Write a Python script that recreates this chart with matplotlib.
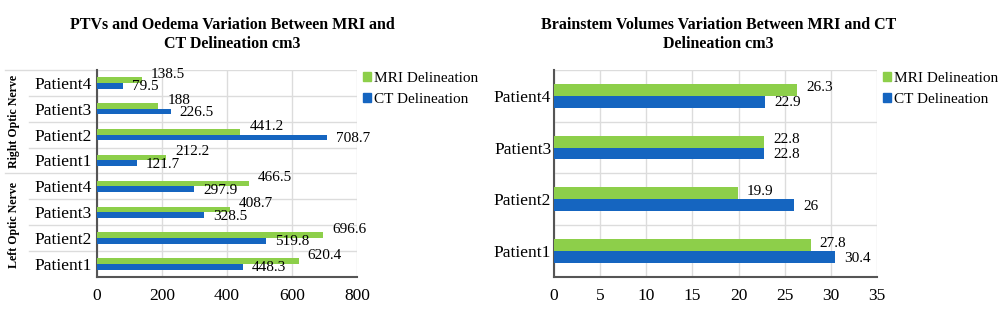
import numpy as np
import matplotlib.pyplot as plt
from matplotlib.patches import Patch

# left chart: optic nerves (bottom -> top)
optic_labels = ["Patient1", "Patient2", "Patient3", "Patient4",
                "Patient1", "Patient2", "Patient3", "Patient4"]
optic_mri = [620.4, 696.6, 408.7, 466.5, 212.2, 441.2, 188, 138.5]
optic_ct = [448.3, 519.8, 328.5, 297.9, 121.7, 708.7, 226.5, 79.5]
optic_mri_txt = ["620.4", "696.6", "408.7", "466.5", "212.2", "441.2", "188", "138.5"]
optic_ct_txt = ["448.3", "519.8", "328.5", "297.9", "121.7", "708.7", "226.5", "79.5"]
groups = ["Left Optic Nerve", "Right Optic Nerve"]

# right chart: brainstem
bs_labels = ["Patient1", "Patient2", "Patient3", "Patient4"]
bs_mri = [27.8, 19.9, 22.8, 26.3]
bs_ct = [30.4, 26, 22.8, 22.9]
bs_mri_txt = ["27.8", "19.9", "22.8", "26.3"]
bs_ct_txt = ["30.4", "26", "22.8", "22.9"]

GREEN = "#8dcf4a"
BLUE = "#1565c0"
GRID = "#dcdcdc"
plt.rcParams["font.family"] = ["Liberation Serif", "DejaVu Serif"]

fig = plt.figure(figsize=(10, 3.25), dpi=100)


def draw(ax, labels, mri, ct, mri_txt, ct_txt, xmax, step, bh, dx, dy_mri, dy_ct, ypad):
    y = np.arange(len(labels))
    ax.barh(y + bh / 2, mri, height=bh, color=GREEN, zorder=3)
    ax.barh(y - bh / 2, ct, height=bh, color=BLUE, zorder=3)
    for i in range(len(labels)):
        ax.text(mri[i] + dx, y[i] + dy_mri, mri_txt[i], ha="left", va="center", fontsize=11)
        ax.text(ct[i] + dx, y[i] - dy_ct, ct_txt[i], ha="left", va="center", fontsize=11)
    ax.set_xlim(0, xmax)
    ax.set_ylim(-0.5, len(labels) - 0.5)
    ax.set_xticks(np.arange(0, xmax + 1, step))
    ax.set_yticks(y)
    ax.set_yticklabels(labels, fontsize=12.5)
    ax.tick_params(axis="y", length=0, pad=ypad)
    ax.tick_params(axis="x", length=0, pad=8, labelsize=12.5)
    ax.grid(axis="x", color=GRID, lw=1, zorder=0)
    for s in ["top", "right"]:
        ax.spines[s].set_visible(False)
    for s in ["left", "bottom"]:
        ax.spines[s].set_color("#555555")
        ax.spines[s].set_linewidth(1.5)
    # horizontal separators between categories
    for b in np.arange(0.5, len(labels) - 0.5, 1.0):
        ax.axhline(b, color=GRID, lw=1, zorder=0)
    ax.axhline(len(labels) - 0.5, color=GRID, lw=1, zorder=0)
    ax.legend(handles=[Patch(color=GREEN, label="MRI Delineation"),
                       Patch(color=BLUE, label="CT Delineation")],
              loc="upper left", bbox_to_anchor=(1.0, 1.02), frameon=False,
              fontsize=11, handlelength=0.5, handleheight=0.5, handletextpad=0.2,
              labelspacing=0.55, borderaxespad=0)


# left
ax1 = fig.add_axes([0.097, 0.148, 0.26, 0.637])
draw(ax1, optic_labels, optic_mri, optic_ct, optic_mri_txt, optic_ct_txt,
     800, 200, 0.22, 28, 0.33, 0.15, 4)
ax1.set_title("PTVs and Oedema Variation Between MRI and\nCT Delineation cm3",
              fontsize=11.5, fontweight="bold", pad=16, x=0.52)
# separator lines extending into the label area
for b in [0.5, 1.5, 2.5, 4.5, 5.5, 6.5]:
    ax1.plot([-0.26, 0], [b, b], color=GRID, lw=1, transform=ax1.get_yaxis_transform(),
             clip_on=False)
for b in [3.5, 7.5]:
    ax1.plot([-0.355, 0], [b, b], color=GRID, lw=1, transform=ax1.get_yaxis_transform(),
             clip_on=False)
ax1.text(-0.32, 1.5, groups[0], rotation=90, ha="center", va="center", fontsize=8.6,
         fontweight="bold", transform=ax1.get_yaxis_transform())
ax1.text(-0.32, 5.5, groups[1], rotation=90, ha="center", va="center", fontsize=8.6,
         fontweight="bold", transform=ax1.get_yaxis_transform())

# right
ax2 = fig.add_axes([0.554, 0.148, 0.323, 0.637])
draw(ax2, bs_labels, bs_mri, bs_ct, bs_mri_txt, bs_ct_txt,
     35, 5, 0.23, 1.0, 0.15, 0.14, 2)
ax2.set_title("Brainstem Volumes Variation Between MRI and CT\nDelineation cm3",
              fontsize=11.5, fontweight="bold", pad=16, x=0.51)

fig.savefig("out.png", dpi=100)
